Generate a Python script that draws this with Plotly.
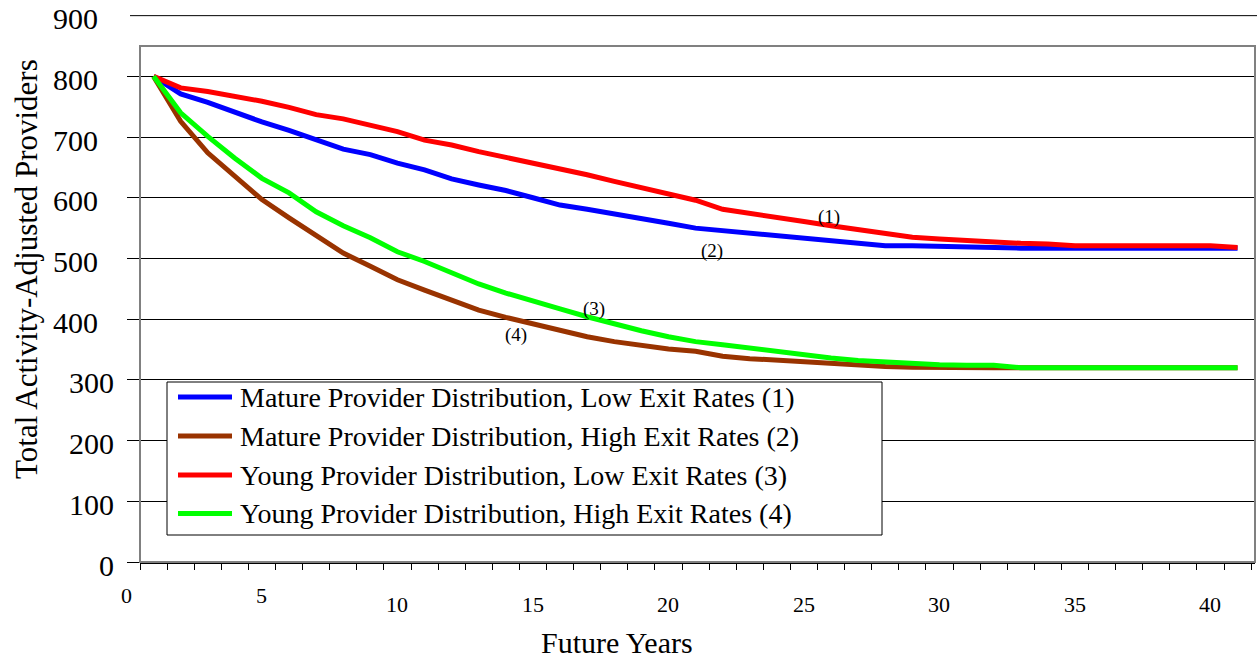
import plotly.graph_objects as go

# ---- data -------------------------------------------------------------
years = list(range(1, 42))

mature_low = [800, 771, 757, 740, 725, 711, 696, 680, 671, 657,
              646, 631, 621, 612, 600, 588, 581, 574, 566, 558,
              550, 546, 541, 536, 533, 530, 525, 521, 521, 520,
              517, 517, 517, 517, 517, 517, 517, 517, 517, 517, 517]

mature_high = [800, 726, 674, 635, 597, 567, 539, 509, 487, 465,
               448, 432, 415, 403, 392, 382, 371, 363, 356, 351,
               347, 339, 335, 332, 329, 327, 324, 322, 321, 320,
               320, 320, 320, 320, 320, 320, 320, 320, 320, 320, 320]

young_low = [800, 781, 775, 768, 759, 749, 737, 730, 719, 709,
             695, 687, 676, 667, 657, 647, 638, 627, 617, 605,
             596, 581, 575, 568, 561, 554, 548, 543, 535, 532,
             529, 528, 525, 524, 521, 521, 521, 521, 521, 521, 518]

young_high = [800, 740, 701, 665, 632, 608, 577, 554, 534, 511,
              495, 476, 458, 443, 429, 417, 404, 392, 381, 371,
              363, 358, 352, 348, 341, 336, 332, 329, 328, 325,
              324, 324, 320, 320, 320, 320, 320, 320, 320, 320, 320]

series_names = [
    "Mature Provider Distribution, Low Exit Rates (1)",
    "Mature Provider Distribution, High Exit Rates (2)",
    "Young Provider Distribution, Low Exit Rates (3)",
    "Young Provider Distribution, High Exit Rates (4)",
]
series_colors = ["#0000FF", "#993300", "#FF0000", "#00FF00"]

x_tick_labels = [0, 5, 10, 15, 20, 25, 30, 35, 40]
y_tick_values = [0, 100, 200, 300, 400, 500, 600, 700, 800, 900]
curve_tags = ["(1)", "(2)", "(3)", "(4)"]

# ---- geometry helpers (pixel -> paper) --------------------------------
W, H = 1257, 658
PL, PR, PT, PB = 140, 1255, 46, 562
Y_MAX = 850
X0 = 0.5            # x value at the left edge of the plot box
X_STEP = 27.1       # pixels per year
FONT = "Liberation Serif, Times New Roman, serif"


def px_x(p):
    return (p - PL) / (PR - PL)


def px_y(p):
    return (PB - p) / (PB - PT)


def year_to_paper(v):
    return (v - X0) * X_STEP / (PR - PL)


fig = go.Figure()

for vals, name, color in zip([mature_low, mature_high, young_low, young_high],
                             series_names, series_colors):
    fig.add_trace(go.Scatter(x=years, y=vals, name=name, mode="lines",
                             line=dict(color=color, width=5),
                             showlegend=False, hoverinfo="x+y+name"))

annotations = []
shapes = []

# y tick labels
for v in y_tick_values:
    right = 100 if v >= 400 else 116
    annotations.append(dict(xref="paper", yref="paper", x=px_x(right), y=v / Y_MAX,
                            xanchor="right", yanchor="middle", yshift=-3,
                            text=str(v), showarrow=False,
                            font=dict(family=FONT, size=30, color="black")))

# x tick labels (the "0" sits left of the plot box, so paper coordinates are used)
for v in x_tick_labels:
    ypx = 595 if v <= 5 else 604.5
    annotations.append(dict(xref="paper", yref="paper", x=year_to_paper(v), y=px_y(ypx),
                            xanchor="center", yanchor="middle",
                            text=str(v), showarrow=False,
                            font=dict(family=FONT, size=22, color="black")))

# axis titles
annotations.append(dict(xref="paper", yref="paper", x=px_x(617), y=px_y(642),
                        xanchor="center", yanchor="middle", text="Future Years",
                        showarrow=False, font=dict(family=FONT, size=30, color="black")))
annotations.append(dict(xref="paper", yref="paper", x=px_x(26), y=px_y(269),
                        xanchor="center", yanchor="middle", textangle=-90,
                        text="Total Activity-Adjusted Providers",
                        showarrow=False, font=dict(family=FONT, size=31, color="black")))

# curve tags
tag_pos = [(25.93, 568), (21.6, 513), (17.26, 417), (14.38, 374)]
for tag, (tx, ty) in zip(curve_tags, tag_pos):
    annotations.append(dict(xref="x", yref="y", x=tx, y=ty, text=tag, showarrow=False,
                            xanchor="center", yanchor="middle",
                            font=dict(family=FONT, size=19, color="black")))

# 900 gridline above the plot box
shapes.append(dict(type="line", xref="paper", yref="paper",
                   x0=px_x(130), x1=px_x(1257), y0=900 / Y_MAX, y1=900 / Y_MAX,
                   line=dict(color="black", width=1)))

# plot box
shapes.append(dict(type="rect", xref="paper", yref="paper", x0=0, x1=1, y0=0, y1=1,
                   line=dict(color="#808080", width=2), layer="above"))

# legend box
shapes.append(dict(type="rect", xref="paper", yref="paper",
                   x0=px_x(167), x1=px_x(882), y0=px_y(535), y1=px_y(382),
                   line=dict(color="black", width=1), fillcolor="white", layer="above"))
row_y = [397, 436, 475, 513.5]
for name, color, ry in zip(series_names, series_colors, row_y):
    shapes.append(dict(type="line", xref="paper", yref="paper",
                       x0=px_x(178), x1=px_x(232), y0=px_y(ry), y1=px_y(ry),
                       line=dict(color=color, width=5), layer="above"))
    annotations.append(dict(xref="paper", yref="paper", x=px_x(238), y=px_y(ry),
                            xanchor="left", yanchor="middle", text=name, showarrow=False,
                            font=dict(family=FONT, size=28, color="black")))

fig.update_layout(
    width=W, height=H,
    margin=dict(l=PL, r=W - PR, t=PT, b=H - PB, pad=0),
    paper_bgcolor="white", plot_bgcolor="white",
    xaxis=dict(range=[X0, X0 + (PR - PL) / X_STEP],
               tickmode="array", tickvals=[k + 0.5 for k in range(0, 42)],
               ticks="outside", ticklen=6, tickcolor="black", tickwidth=1,
               showticklabels=False, showgrid=False, zeroline=False,
               showline=True, linecolor="black", linewidth=2),
    yaxis=dict(range=[0, Y_MAX], tickmode="array", tickvals=y_tick_values[:-1],
               ticks="outside", ticklen=12, tickcolor="black", tickwidth=1,
               showticklabels=False, showgrid=True, gridcolor="black", gridwidth=1,
               zeroline=False, showline=False),
    annotations=annotations,
    shapes=shapes,
    font=dict(family=FONT, color="black"),
)

fig.write_html("out.html")
